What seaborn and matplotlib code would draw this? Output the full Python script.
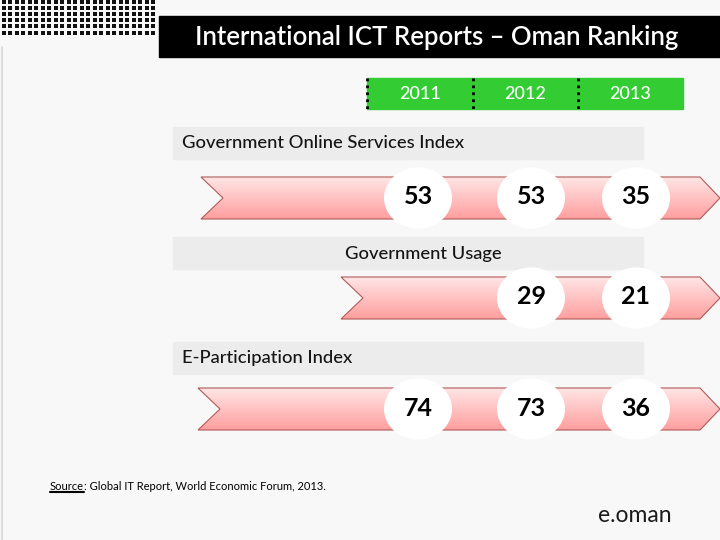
import numpy as np
import pandas as pd
import matplotlib
matplotlib.use("Agg")
import matplotlib.pyplot as plt
import seaborn as sns
from matplotlib.patches import Polygon, Rectangle
from matplotlib.path import Path
from matplotlib.markers import MarkerStyle
from matplotlib.colors import LinearSegmentedColormap

# ---------------- data ----------------
title = "International ICT Reports \u2013 Oman Ranking"
years = ["2011", "2012", "2013"]
indices = ["Government Online Services Index", "Government Usage", "E-Participation Index"]
gov_online = [53, 53, 35]
gov_usage = [None, 29, 21]
e_participation = [74, 73, 36]
source_label = "Source"
source_text = ": Global IT Report, World Economic Forum, 2013."
logo = "e.oman"

# ---------------- style ----------------
sns.set_style("white")
plt.rcParams["font.family"] = ["Lato", "DejaVu Sans"]

BG = "#f8f8f8"
GREEN = "#33cc33"

fig = plt.figure(figsize=(7.2, 5.4), dpi=100, facecolor=BG)
ax = fig.add_axes([0, 0, 1, 1])
ax.set_facecolor(BG)
ax.set_xlim(0, 720)
ax.set_ylim(540, 0)
ax.axis("off")

# decorative dot pattern top-left
gx, gy = np.meshgrid(np.arange(3.5, 158, 6.5), np.arange(2, 34, 6.1))
ax.scatter(gx.ravel(), gy.ravel(), marker="s", s=5.5, color="#111111", linewidths=0, zorder=1)

# left thin line
ax.plot([1.5, 1.5], [47, 540], color="#d6d6d6", lw=1.2, zorder=1)

# title bar
ax.add_patch(Rectangle((159, 16), 561, 41, color="black", zorder=2))
ax.text(437, 37.5, title, color="white", fontsize=18.5, fontweight="semibold",
        ha="center", va="center", zorder=3)

# year header
header_edges = [367, 473, 578, 683]
ax.add_patch(Rectangle((367, 78), 316, 31, color=GREEN, zorder=2))
for i, yr in enumerate(years):
    cx = (header_edges[i] + header_edges[i + 1]) / 2
    ax.text(cx, 94, yr, color="white", fontsize=13, fontweight="medium",
            ha="center", va="center", zorder=3)
    ax.plot([header_edges[i]] * 2, [78, 109], color="black", lw=2, ls=(0, (1, 1.5)), zorder=3)

# rows layout
row_y = [198, 298, 409]
label_box_y = [127, 237, 342]
label_pos = [(182, "left"), (423, "center"), (182, "left")]
arrow_x0 = [201, 341, 198]
circle_x = {"2011": 418, "2012": 531, "2013": 636}
half_h = 21

cmap = LinearSegmentedColormap.from_list("pink", ["#ffe6e6", "#ff9e9e"])
grad = np.linspace(0, 1, 256).reshape(-1, 1)

for k, name in enumerate(indices):
    by = label_box_y[k]
    ax.add_patch(Rectangle((173, by), 470, 32, color="#ececec", zorder=2))
    lx, ha = label_pos[k]
    ax.text(lx, by + 16.5, name, fontsize=13.2, fontweight="medium", color="#151515",
            ha=ha, va="center", zorder=3)

    yc = row_y[k]
    x0 = arrow_x0[k]
    verts = [(x0, yc - half_h), (700, yc - half_h), (720, yc), (700, yc + half_h),
             (x0, yc + half_h), (x0 + 22, yc)]
    poly = Polygon(verts, closed=True, facecolor="none", edgecolor="#b05a58", lw=0.8, zorder=4)
    ax.add_patch(poly)
    im = ax.imshow(grad, cmap=cmap, aspect="auto", origin="upper",
                   extent=(x0, 720, yc + half_h, yc - half_h), zorder=3)
    im.set_clip_path(poly)

ax.set_xlim(0, 720)
ax.set_ylim(540, 0)

# circles with values
rows = []
for k, vals in enumerate([gov_online, gov_usage, e_participation]):
    for yr, v in zip(years, vals):
        if v is not None:
            rows.append({"index": indices[k], "year": yr, "value": v,
                         "x": circle_x[yr], "y": row_y[k]})
df = pd.DataFrame(rows)

ell = Path.unit_circle()
ell = Path(ell.vertices * np.array([1.0, 0.9]), ell.codes)
sns.scatterplot(data=df, x="x", y="y", ax=ax, marker=MarkerStyle(ell), s=2400,
                color="white", edgecolor="none", linewidth=0, zorder=5, legend=False)
ax.axis("off")
for _, r in df.iterrows():
    ax.text(r["x"], r["y"] - 1, str(r["value"]), fontsize=18, fontweight="bold",
            color="black", ha="center", va="center", zorder=6)

# source
t1 = ax.text(50, 487, source_label, fontsize=8, color="black", ha="left", va="center", zorder=3)
t2 = ax.annotate(source_text, xy=(1, 0.5), xycoords=t1, fontsize=8, color="black",
                 ha="left", va="center", zorder=3)
fig.canvas.draw()
bb = t1.get_window_extent()
inv = ax.transData.inverted()
(ux0, uy0), (ux1, uy1) = inv.transform([(bb.x0, bb.y0), (bb.x1, bb.y0)])
ax.plot([ux0, ux1], [uy0 - 0.5, uy1 - 0.5], color="black", lw=1.5, zorder=3)

# logo
ax.text(635, 515, logo, fontsize=16.5, color="#1a1a1a",
        ha="center", va="center", zorder=3)

ax.set_xlim(0, 720)
ax.set_ylim(540, 0)
fig.savefig("out.png", dpi=100, facecolor=BG)
